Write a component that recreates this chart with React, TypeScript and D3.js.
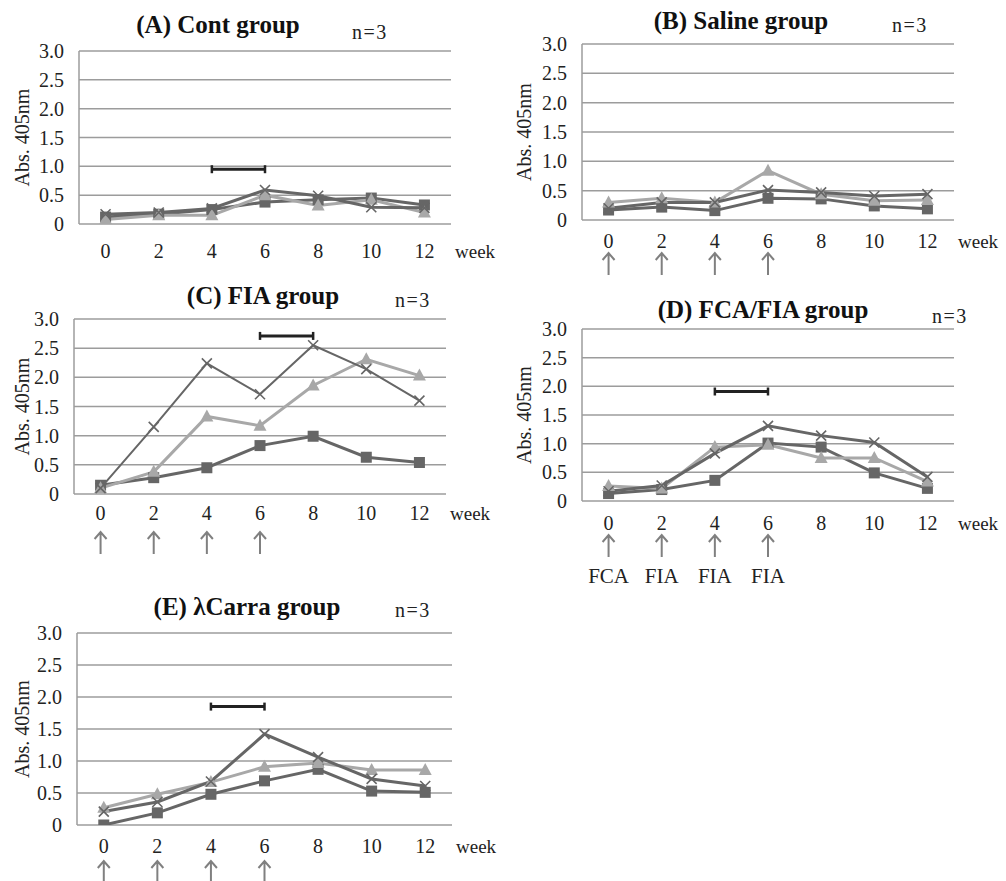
import React from 'react';
import * as d3 from 'd3';

// week labels on the x axis
const weeks = ['0', '2', '4', '6', '8', '10', '12'];
const yTicks = [0, 0.5, 1.0, 1.5, 2.0, 2.5, 3.0];

// values (square / triangle / cross series)
const contSquare = [0.12, 0.17, 0.25, 0.38, 0.42, 0.45, 0.33];
const contTriangle = [0.08, 0.15, 0.15, 0.5, 0.32, 0.42, 0.2];
const contCross = [0.17, 0.2, 0.27, 0.59, 0.49, 0.29, 0.28];

const salineSquare = [0.17, 0.22, 0.16, 0.37, 0.36, 0.24, 0.19];
const salineTriangle = [0.3, 0.37, 0.3, 0.84, 0.44, 0.33, 0.34];
const salineCross = [0.2, 0.3, 0.3, 0.51, 0.47, 0.41, 0.44];

const fiaSquare = [0.15, 0.28, 0.45, 0.83, 0.99, 0.63, 0.54];
const fiaTriangle = [0.1, 0.38, 1.33, 1.17, 1.86, 2.31, 2.03];
const fiaCross = [0.1, 1.15, 2.24, 1.71, 2.55, 2.14, 1.6];

const fcaSquare = [0.13, 0.2, 0.36, 1.01, 0.94, 0.49, 0.22];
const fcaTriangle = [0.26, 0.22, 0.94, 0.98, 0.75, 0.75, 0.34];
const fcaCross = [0.17, 0.27, 0.83, 1.31, 1.14, 1.02, 0.42];

const carraSquare = [0, 0.19, 0.48, 0.69, 0.87, 0.53, 0.51];
const carraTriangle = [0.27, 0.48, 0.67, 0.91, 0.97, 0.86, 0.86];
const carraCross = [0.21, 0.36, 0.68, 1.42, 1.06, 0.72, 0.61];

// bracket bars: [from week, to week, level]
const contBar = ['4', '6', 0.95];
const fiaBar = ['6', '8', 2.71];
const fcaBar = ['4', '6', 1.91];
const carraBar = ['4', '6', 1.85];

const injectionWeeks = ['0', '2', '4', '6'];
const fcaInjections = ['FCA', 'FIA', 'FIA', 'FIA'];

const DARK = '#666666', LIGHT = '#a8a8a8', GRID = '#9c9c9c';
const serif = { fontFamily: "'Liberation Serif', 'Times New Roman', 'DejaVu Serif', serif" };

const panels = [
    { id: 'A', title: '(A) Cont group', series: [contSquare, contTriangle, contCross], bar: contBar, arrows: false, labels: null,
      x0: 79, x1: 451, yTop: 51, yZero: 224, labelX: 22, titleX: 218, titleY: 33, nX: 352, nY: 39, tickY: 258, arrowY: 0 },
    { id: 'B', title: '(B) Saline group', series: [salineSquare, salineTriangle, salineCross], bar: null, arrows: true, labels: null,
      x0: 582, x1: 954, yTop: 44, yZero: 220, labelX: 524, titleX: 741, titleY: 29, nX: 892, nY: 32, tickY: 248, arrowY: 253 },
    { id: 'C', title: '(C) FIA group', series: [fiaSquare, fiaTriangle, fiaCross], bar: fiaBar, arrows: true, labels: null,
      x0: 74, x1: 446, yTop: 319, yZero: 494, labelX: 22, titleX: 263, titleY: 304, nX: 395, nY: 307, tickY: 520, arrowY: 532 },
    { id: 'D', title: '(D) FCA/FIA group', series: [fcaSquare, fcaTriangle, fcaCross], bar: fcaBar, arrows: true, labels: fcaInjections,
      x0: 582, x1: 954, yTop: 329, yZero: 501, labelX: 524, titleX: 763, titleY: 318, nX: 932, nY: 323, tickY: 530, arrowY: 535 },
    { id: 'E', title: '(E) λCarra group', series: [carraSquare, carraTriangle, carraCross], bar: carraBar, arrows: true, labels: null,
      x0: 77, x1: 452, yTop: 633, yZero: 825, labelX: 22, titleX: 247, titleY: 615, nX: 395, nY: 617, tickY: 853, arrowY: 861 },
];

const Marker = ({ kind, x, y }) => {
    if (kind === 0) return <rect x={x - 5.5} y={y - 5.5} width={11} height={11} fill={DARK} />;
    if (kind === 1) return <path d={`M${x},${y - 7}L${x + 6.5},${y + 5}L${x - 6.5},${y + 5}Z`} fill={LIGHT} />;
    return <path d={`M${x - 5},${y - 5}L${x + 5},${y + 5}M${x - 5},${y + 5}L${x + 5},${y - 5}`} stroke={DARK} strokeWidth={1.6} fill="none" />;
};

const Panel = ({ p }) => {
    const x = d3.scalePoint().domain(weeks).range([p.x0, p.x1]).padding(0.5);
    const y = d3.scaleLinear().domain([0, 3]).range([p.yZero, p.yTop]);
    const line = d3.line().x((d, i) => x(weeks[i])).y(d => y(d));
    const colors = [DARK, LIGHT, DARK];
    const midY = (p.yTop + p.yZero) / 2;
    return (
        <g>
            <defs>
                <clipPath id={`clip${p.id}`}>
                    <rect x={p.x0} y={p.yTop - 20} width={p.x1 - p.x0 + 10} height={p.yZero - p.yTop + 20} />
                </clipPath>
            </defs>
            {yTicks.map(t => (
                <line key={t} x1={p.x0} x2={p.x1} y1={y(t)} y2={y(t)} stroke={GRID} strokeWidth={1.5} />
            ))}
            <line x1={p.x0} x2={p.x0} y1={p.yTop} y2={p.yZero} stroke={GRID} strokeWidth={1.5} />
            <g style={serif} fill="#222">
                {yTicks.map(t => (
                    <text key={t} x={p.x0 - 15} y={y(t)} dy="0.35em" textAnchor="end" fontSize={20}>
                        {t === 0 ? '0' : d3.format('.1f')(t)}
                    </text>
                ))}
                <text transform={`translate(${p.labelX},${midY}) rotate(-90)`} textAnchor="middle" dy="0.35em" fontSize={20}>Abs. 405nm</text>
                {weeks.map(w => (
                    <text key={w} x={x(w)} y={p.tickY} textAnchor="middle" fontSize={20}>{w}</text>
                ))}
                <text x={p.x1 + 4} y={p.tickY} fontSize={19}>week</text>
                <text x={p.titleX} y={p.titleY} textAnchor="middle" fontSize={25} fontWeight="bold" fill="#111">{p.title}</text>
                <text x={p.nX} y={p.nY} fontSize={20} letterSpacing={1.5}>n=3</text>
                {p.labels && p.labels.map((l, i) => (
                    <text key={i} x={x(injectionWeeks[i])} y={p.arrowY + 48} textAnchor="middle" fontSize={21}>{l}</text>
                ))}
            </g>
            <g clipPath={`url(#clip${p.id})`}>
                {p.series.map((s, k) => (
                    <path key={k} d={line(s)} fill="none" stroke={colors[k]} strokeWidth={p.id === 'C' && k === 2 ? 2 : 3} />
                ))}
                {p.series.map((s, k) => s.map((v, i) => (
                    <Marker key={`${k}-${i}`} kind={k} x={x(weeks[i])} y={y(v)} />
                )))}
            </g>
            {p.bar && (
                <g stroke="#222">
                    <line x1={x(p.bar[0])} x2={x(p.bar[1])} y1={y(p.bar[2])} y2={y(p.bar[2])} strokeWidth={3} />
                    <line x1={x(p.bar[0])} x2={x(p.bar[0])} y1={y(p.bar[2]) - 4} y2={y(p.bar[2]) + 4} strokeWidth={2.5} />
                    <line x1={x(p.bar[1])} x2={x(p.bar[1])} y1={y(p.bar[2]) - 4} y2={y(p.bar[2]) + 4} strokeWidth={2.5} />
                </g>
            )}
            {p.arrows && injectionWeeks.map(w => (
                <path key={w} d={`M${x(w)},${p.arrowY + 22}V${p.arrowY}M${x(w) - 6},${p.arrowY + 7}L${x(w)},${p.arrowY}L${x(w) + 6},${p.arrowY + 7}`}
                    fill="none" stroke="#808080" strokeWidth={2} />
            ))}
        </g>
    );
};

export default function App() {
    return (
        <svg width={1006} height={881} style={{ position: 'absolute', left: 0, top: 0, background: '#fff' }}>
            {panels.map(p => <Panel key={p.id} p={p} />)}
        </svg>
    );
}
